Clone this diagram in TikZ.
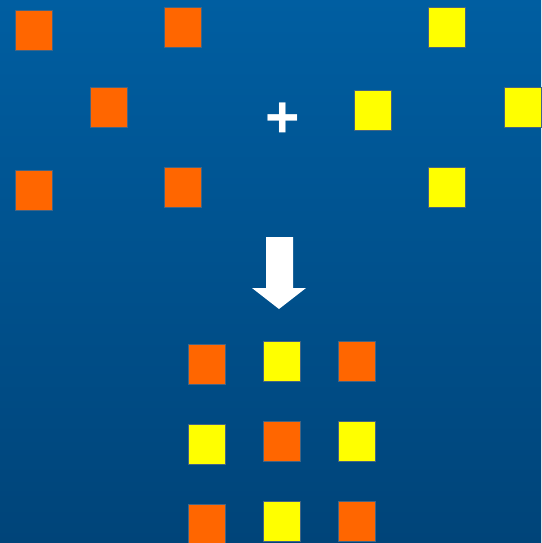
\documentclass[tikz,border=0pt]{standalone}
\usepackage{fontspec}
\setmainfont{Liberation Sans}
\definecolor{bgtop}{RGB}{0,94,161}
\definecolor{bgbot}{RGB}{0,68,121}
\definecolor{sqorange}{RGB}{255,102,0}
\definecolor{sqyellow}{RGB}{255,255,0}
\definecolor{sqedge}{RGB}{70,100,130}
\tikzset{
  sq/.style={rectangle, minimum width=37pt, minimum height=40pt, inner sep=0pt, draw=sqedge, line width=0.6pt, anchor=north west},
  osq/.style={sq, fill=sqorange},
  ysq/.style={sq, fill=sqyellow},
}
\begin{document}
\begin{tikzpicture}[x=1pt,y=-1pt]
\shade[top color=bgtop, bottom color=bgbot] (0,0) rectangle (541,543);
\useasboundingbox (0,0) rectangle (541,543);
% top left orange group
\node[osq] (o1) at (15,10) {};
\node[osq] (o2) at (164,7) {};
\node[osq] (o3) at (90,87) {};
\node[osq] (o4) at (15,170) {};
\node[osq] (o5) at (164,167) {};
% plus
\node[text=white, font=\bfseries\fontsize{59}{59}\selectfont, inner sep=0pt] (plus) at (282.5,120) {+};
% yellow group
\node[ysq] (y1) at (428,7) {};
\node[ysq] (y2) at (354,90) {};
\node[ysq] (y3) at (504,87) {};
\node[ysq] (y4) at (428,167) {};
% arrow
\fill[white] (266,237) -- (293,237) -- (293,288) -- (306,288) -- (279,309) -- (252,288) -- (266,288) -- cycle;
% result grid
\node[osq] (r11) at (188,344) {};
\node[ysq] (r12) at (263,341) {};
\node[osq] (r13) at (338,341) {};
\node[ysq] (r21) at (188,424) {};
\node[osq] (r22) at (263,421) {};
\node[ysq] (r23) at (338,421) {};
\node[osq] (r31) at (188,504) {};
\node[ysq] (r32) at (263,501) {};
\node[osq] (r33) at (338,501) {};
\end{tikzpicture}
\end{document}
